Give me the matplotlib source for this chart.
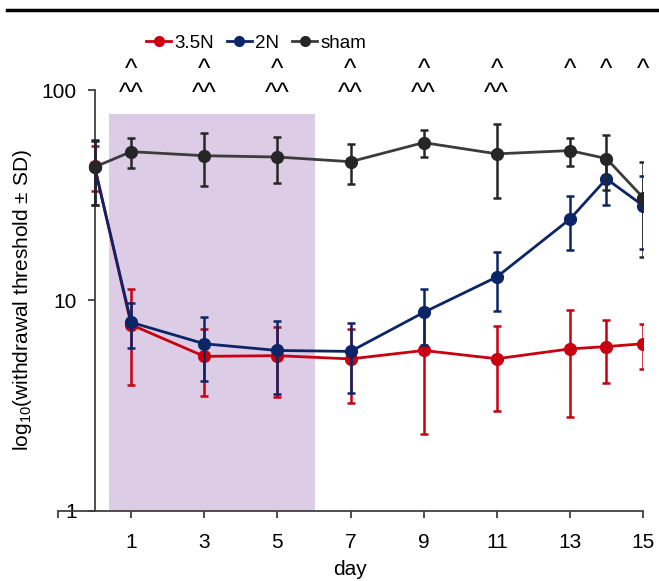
import matplotlib
matplotlib.use("Agg")
import matplotlib.pyplot as plt
import numpy as np
from matplotlib.lines import Line2D
from matplotlib.transforms import blended_transform_factory

plt.rcParams['font.family'] = ['Liberation Sans', 'DejaVu Sans']
plt.rcParams['mathtext.fontset'] = 'custom'
plt.rcParams['mathtext.rm'] = 'Liberation Sans'
plt.rcParams['mathtext.it'] = 'Liberation Sans:italic'

days = [0, 1, 3, 5, 7, 9, 11, 13, 14, 15]
series_names = ["3.5N", "2N", "sham"]

n35_mean = [43.6, 7.65, 5.41, 5.45, 5.26, 5.77, 5.27, 5.87, 6.02, 6.21]
n35_sd = [10.4, 3.7, 1.9, 2.0, 2.0, 3.45, 2.3, 3.1, 2.0, 1.5]

n2_mean = [43.0, 7.85, 6.21, 5.77, 5.71, 8.75, 12.9, 24.3, 37.8, 28.2]
n2_sd = [14.5, 1.9, 2.1, 2.2, 2.1, 2.6, 4.0, 7.0, 9.4, 10.6]

sham_mean = [43.0, 50.9, 48.7, 48.0, 45.6, 56.2, 49.7, 51.5, 47.2, 30.8]
sham_sd = [14.6, 8.4, 13.9, 11.8, 9.7, 8.3, 19.2, 7.9, 13.6, 14.7]

xticks = [-1, 1, 3, 5, 7, 9, 11, 13, 15]
xtick_labels = ["", "1", "3", "5", "7", "9", "11", "13", "15"]
yticks = [1, 10, 100]
ytick_labels = ["1", "10", "100"]

shade_x = [0.4, 6.03]
shade_top = 76.6

sig1_days = [1, 3, 5, 7, 9, 11, 13, 14, 15]
sig2_days = [1, 3, 5, 7, 9, 11]

colors = ["#C8000F", "#0B2566", "#262626"]
line_colors = ["#C8000F", "#0B2566", "#3C3C3C"]

W, H = 659, 581
fig = plt.figure(figsize=(W / 100, H / 100), dpi=100)
ax = fig.add_axes([58 / W, 1 - 510.5 / H, (643 - 58) / W, (510.5 - 90) / H])

ax.set_yscale('log')
ax.set_xlim(-1, 15)
ax.set_ylim(1, 100)

ax.fill_between(shade_x, [1, 1], [shade_top, shade_top], color="#DDCCE6", lw=0, zorder=0)

data = [(n35_mean, n35_sd), (n2_mean, n2_sd), (sham_mean, sham_sd)]
for i, (m, s) in enumerate(data):
    m = np.array(m); s = np.array(s)
    ax.errorbar(days, m, yerr=s, fmt='none', ecolor=colors[i], elinewidth=1.8,
                capsize=3, capthick=1.8, zorder=2 + i)
    ax.plot(days, m, color=line_colors[i], lw=2.0, zorder=2.5 + i)
    ax.plot(days, m, 'o', color=colors[i], ms=8.5, zorder=2.6 + i)

ax.spines['top'].set_visible(False)
ax.spines['right'].set_visible(False)
ax.spines['left'].set_position(('data', 0))
for sp in ['left', 'bottom']:
    ax.spines[sp].set_color('#404040')
    ax.spines[sp].set_linewidth(1.3)

ax.set_xticks(xticks)
ax.set_xticklabels(xtick_labels)
ax.set_yticks(yticks)
ax.set_yticklabels(ytick_labels)
ax.yaxis.set_minor_locator(matplotlib.ticker.NullLocator())
ax.tick_params(axis='both', direction='out', length=5, width=1.3, color='#404040',
               labelsize=15, labelcolor='black')
ax.tick_params(axis='x', pad=11)
ax.tick_params(axis='y', pad=8)

ax.set_xlabel("day", fontsize=15, labelpad=6)
fig.text(23 / W, 1 - 300 / H, "log$_{10}$(withdrawal threshold ± SD)", rotation=90,
         fontsize=15, ha='center', va='center')

# significance marks
tr = blended_transform_factory(ax.transData, fig.transFigure)
for d in sig1_days:
    ax.text(d, 1 - 70 / H, "^", transform=tr, ha='center', va='center', fontsize=19,
            clip_on=False)
for d in sig2_days:
    ax.text(d, 1 - 94 / H, "^^", transform=tr, ha='center', va='center', fontsize=19,
            clip_on=False)

# legend
handles = [Line2D([0], [0], color=line_colors[i], lw=2, marker='o', ms=7,
                  markerfacecolor=colors[i], markeredgecolor=colors[i]) for i in range(3)]
fig.legend(handles, series_names, loc='center', bbox_to_anchor=(256 / W, 1 - 43 / H),
           ncol=3, frameon=False, fontsize=13.5, handlelength=1.35, handletextpad=0.15,
           columnspacing=0.7, borderpad=0)

# top rule
fig.add_artist(Line2D([7 / W, 1.0], [1 - 10 / H, 1 - 10 / H], color='black', lw=2.5,
                      transform=fig.transFigure))

fig.savefig("out.png", dpi=100)
